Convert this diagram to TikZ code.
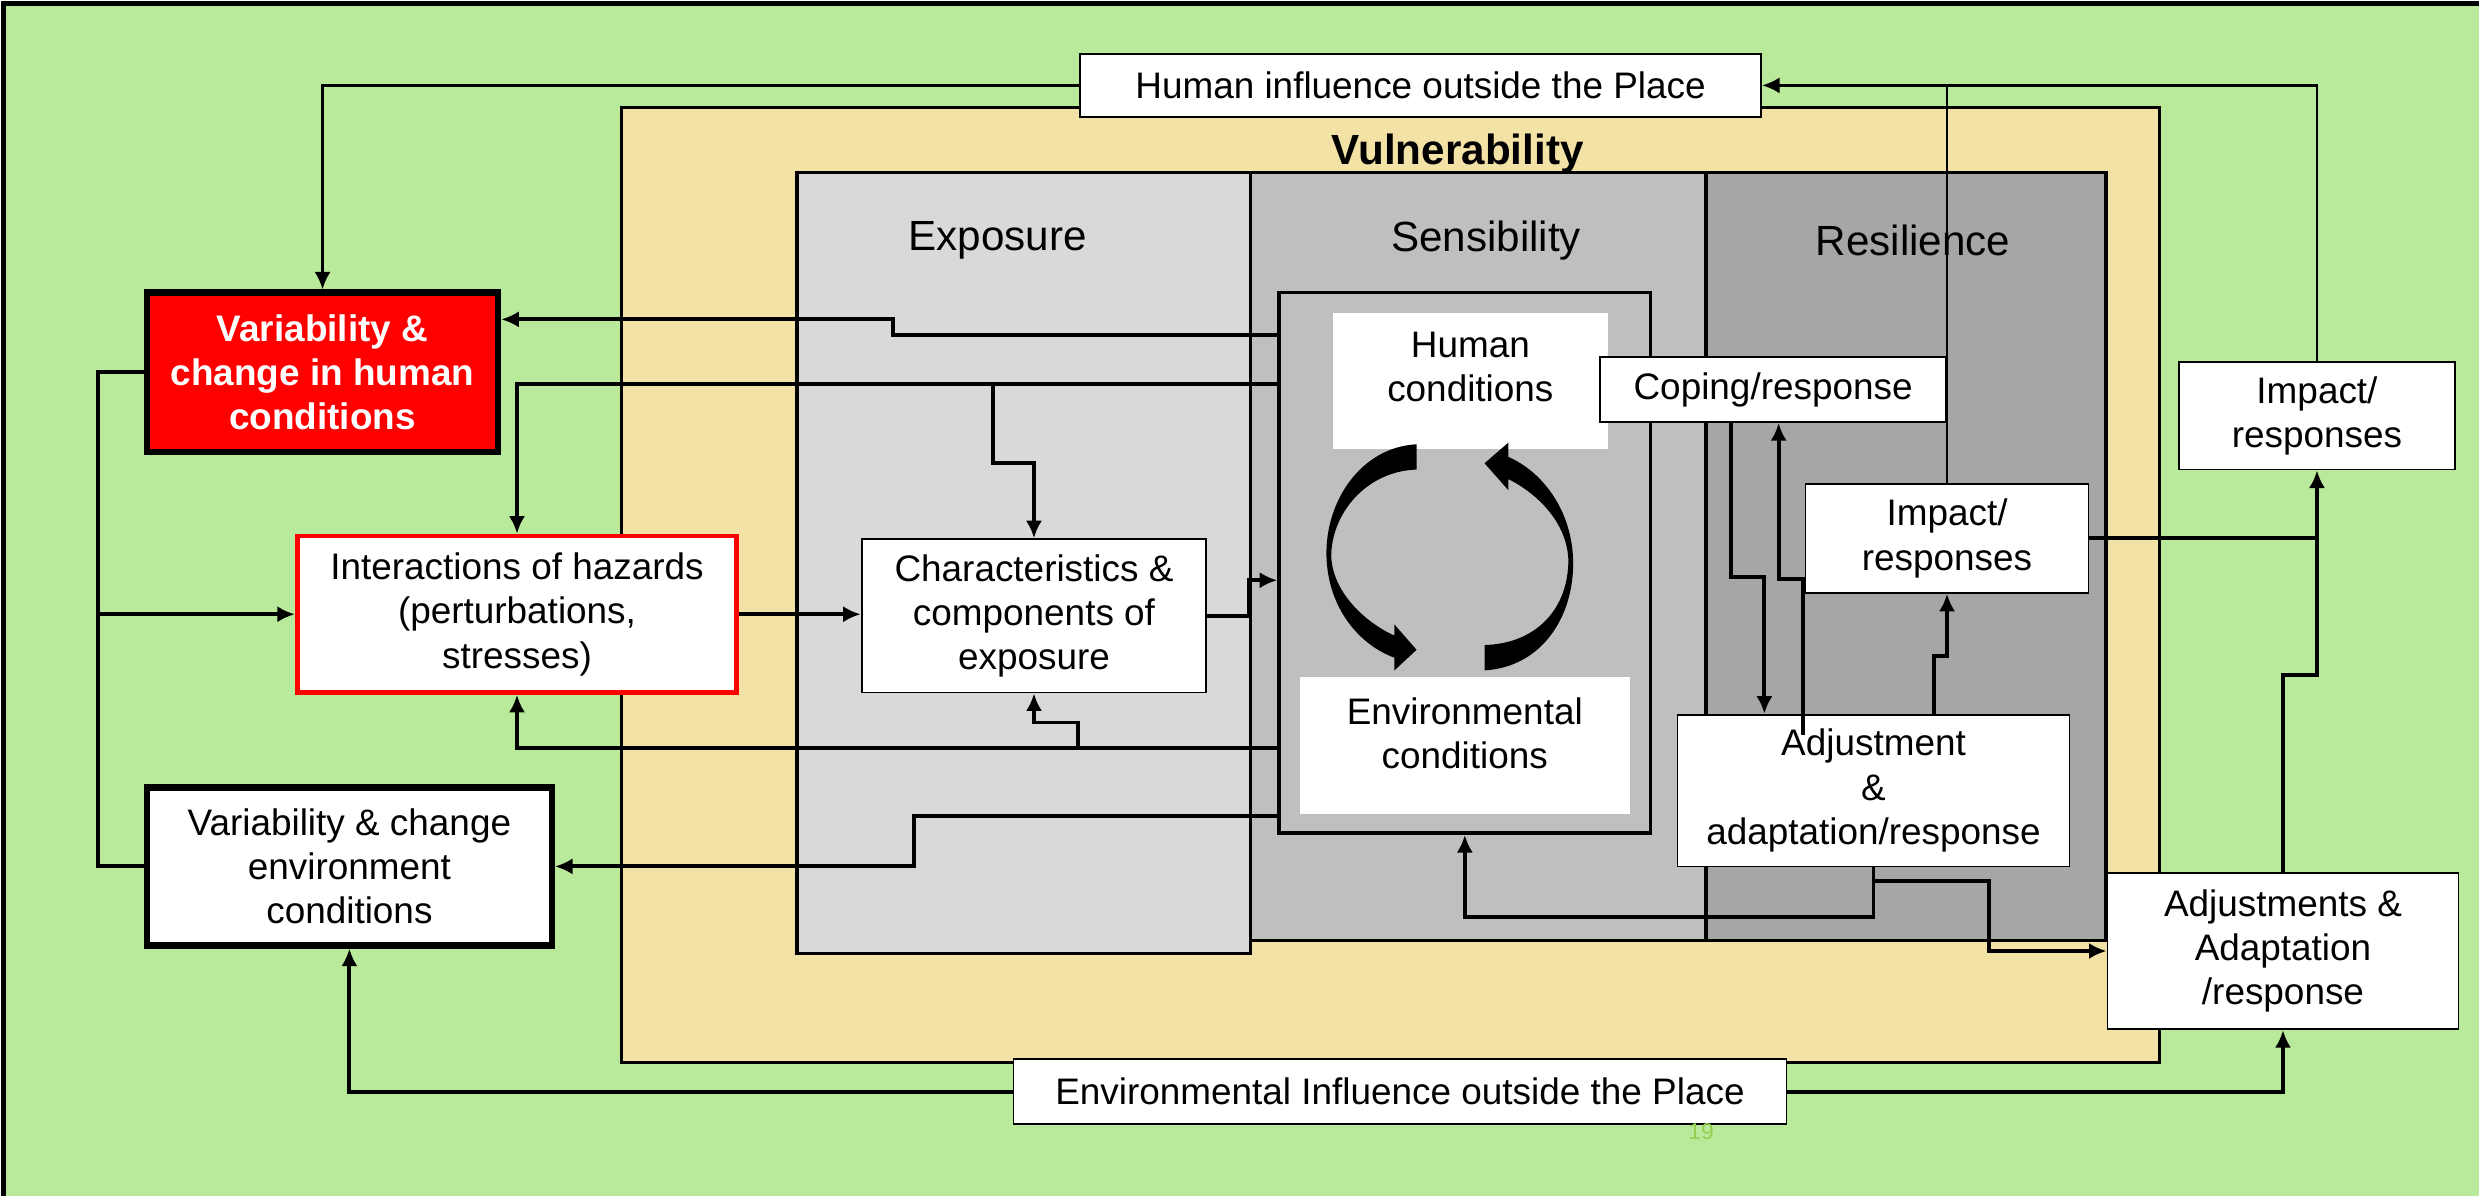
\documentclass[tikz,border=0pt]{standalone}
\usepackage{fontspec}
\setmainfont{Liberation Sans}
\usetikzlibrary{arrows.meta}

\definecolor{bggreen}{RGB}{185,233,154}
\definecolor{vulntan}{RGB}{243,226,166}
\definecolor{expgray}{RGB}{217,217,217}
\definecolor{sensgray}{RGB}{191,191,191}
\definecolor{resgray}{RGB}{166,166,166}
\definecolor{pagegreen}{RGB}{146,208,80}

\tikzset{
	txt/.style={align=center,font=\fontsize{10.5}{12.6}\selectfont},
	box/.style={txt,draw,fill=white,line width=0.5pt,inner sep=0pt},
	whitebox/.style={fill=white,inner sep=0pt},
	sz/.style 2 args={minimum width=#1*0.1581mm,minimum height=#2*0.1581mm},
	heading/.style={font=\fontsize{12}{14}\selectfont},
	link/.style={->,line width=1.1pt},
	thinlink/.style={->,line width=0.7pt},
}

\begin{document}
\begin{tikzpicture}[x=0.1581mm,y=-0.1581mm,>={Latex[length=5pt,width=4.6pt]}]
	\useasboundingbox (0,0) rectangle (1568,756);
	\draw[fill=bggreen,line width=1.5pt] (2,2) rectangle (1580,770);
	\draw[fill=vulntan,line width=0.9pt] (393,68) rectangle (1366,672);
	\draw[fill=sensgray,line width=1pt] (791,109) rectangle (1079,595);
	\draw[fill=resgray,line width=1pt] (1079,109) rectangle (1332,595);
	\draw[fill=expgray,line width=1pt] (504,109) rectangle (791,603);
	\node[font=\bfseries\fontsize{12}{14}\selectfont] (vuln) at (922,97) {Vulnerability};
	\node[heading] (expo) at (631,152) {Exposure};
	\node[heading] (sens) at (940,152) {Sensibility};
	\node[heading] (resil) at (1210,152) {Resilience};

	\node[draw,fill=sensgray,line width=1pt,sz={235}{342}] (sensbox) at (926.5,356) {};
	\node[whitebox,sz={174}{86}] (humcond) at (930,241) {};
	\node[txt] (humtxt) at (930,232) {Human\\conditions};
	\node[whitebox,sz={209}{87}] (envcond) at (926.5,471.5) {};
	\node[txt] (envtxt) at (926.5,464) {Environmental\\conditions};
	\fill (896,281) .. controls (860,283) and (838,318) .. (839,352) .. controls (840,385) and (860,408) .. (882,416) -- (882,424) -- (896,411) -- (882,395) -- (882,402) .. controls (864,394) and (843,375) .. (842,352) .. controls (842,325) and (864,298) .. (896,297) -- cycle;
	\fill (939,424) .. controls (975,422) and (996,390) .. (995,354) .. controls (994,322) and (975,298) .. (954,289) -- (954,280) -- (939,293) -- (954,310) -- (954,303) .. controls (972,312) and (991,330) .. (992,354) .. controls (992,385) and (972,407) .. (939,408) -- cycle;

	\node[box,sz={431}{40}] (hinf) at (898.5,54) {Human influence outside the Place};
	\node[box,fill=red,line width=1.8pt,text=white,font=\bfseries\fontsize{10.5}{12.6}\selectfont,sz={222}{101}] (varhum) at (204,235.5) {Variability \&\\change in human\\conditions};
	\node[box,draw=red,line width=1.3pt,sz={278}{99}] (haz) at (327,388.5) {Interactions of hazards\\(perturbations,\\stresses)};
	\node[box,line width=1.8pt,sz={256}{100}] (varenv) at (221,548) {Variability \& change\\environment\\conditions};
	\node[box,sz={218}{97}] (charexp) at (654,389.5) {Characteristics \&\\components of\\exposure};
	\node[box,sz={219}{41}] (coping) at (1121.5,246.5) {Coping/response};
	\node[box,sz={179}{69}] (impin) at (1231.5,340.5) {Impact/\\responses};
	\node[box,sz={248}{96}] (adjin) at (1185,500) {Adjustment\\\&\\adaptation/response};
	\node[box,sz={175}{68}] (impout) at (1465.5,263) {Impact/\\responses};
	\node[box,sz={222}{99}] (adjout) at (1444,601.5) {Adjustments \&\\Adaptation\\/response};
	\node[box,sz={489}{41}] (envinf) at (885.5,690.5) {Environmental Influence outside the Place};
	\node[text=pagegreen,font=\fontsize{6.5}{7.5}\selectfont] (pageno) at (1076,716) {19};

	\draw[thinlink] (hinf.west) -| (varhum.north);
	\draw[thinlink] (impout.north) |- (hinf.east);
	\draw[line width=0.7pt] (impin.north) -- (impin.north |- hinf.east);
	\draw[link] (sensbox.west |- 0,212) -- (565,212) -- (565,202) -- (varhum.east |- 0,202);
	\draw[link] (sensbox.west |- 0,243) -| (haz.north);
	\draw[link] (628,243) -- (628,293) -| (charexp.north);
	\draw[line width=1.1pt] (varhum.west) -- (62,235.5) |- (varenv.west);
	\draw[link] (62,388.5) -- (haz.west);
	\draw[link] (haz.east) -- (haz.east -| charexp.west);
	\draw[link] (charexp.east) -- (790,389.5) -- (790,367) -- (sensbox.west |- 0,367);
	\draw[link] (sensbox.west |- 0,473) -| (haz.south);
	\draw[link] (682,473) -- (682,457) -| (charexp.south);
	\draw[link] (sensbox.west |- 0,516) -- (578,516) |- (varenv.east);
	\draw[link] (envinf.west) -| (varenv.south);
	\draw[link] (envinf.east) -| (adjout.south);
	\draw[link] (adjout.north) -- (1444,427) -| (impout.south);
	\draw[line width=1.1pt] (impin.east) -- (impin.east -| impout.south);
	\draw[link] (adjin.south) -- (1185,580) -| (sensbox.south);
	\draw[link] (1185,557) -| (1258,601.5) -- (adjout.west);
	\draw[link] (coping.south -| 1095,0) -- (1095,365) -| (adjin.north -| 1116,0);
	\draw[link] (1140.5,465) -- (1140.5,366) -| (coping.south -| 1125,0);
	\draw[link] (adjin.north -| 1223,0) -- (1223,415) -| (impin.south);
\end{tikzpicture}
\end{document}
